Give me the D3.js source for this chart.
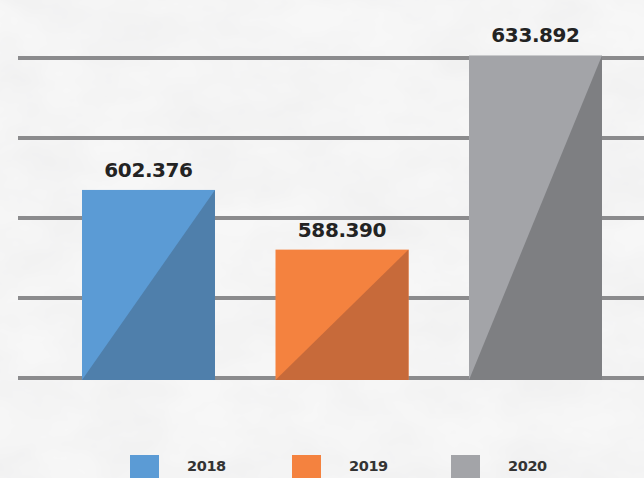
<!DOCTYPE html>
<html>
<head>
<meta charset="utf-8">
<script src="https://cdn.jsdelivr.net/npm/d3@7"></script>
<style>
  html, body { margin: 0; padding: 0; background: #f3f3f3; }
  svg { display: block; }
</style>
</head>
<body>
<div id="chart"></div>
<script>
// Yearly totals
const years = ["2018", "2019", "2020"];
const values = [602.376, 588.390, 633.892];
const valueLabels = ["602.376", "588.390", "633.892"];
const lightColors = ["#5b9bd5", "#f4823f", "#a3a4a8"];
const darkColors = ["#4f7fab", "#c76a3a", "#7e7f82"];
const yDomain = [558.3, 633.3];
const gridCount = 5;

const W = 644, H = 478;
const svg = d3.select("#chart").append("svg")
  .attr("width", W).attr("height", H);

// paper-like background
const defs = svg.append("defs");
const f = defs.append("filter").attr("id", "paper")
  .attr("x", 0).attr("y", 0).attr("width", "100%").attr("height", "100%");
f.append("feTurbulence").attr("type", "fractalNoise")
  .attr("baseFrequency", "0.012 0.02").attr("numOctaves", 4).attr("seed", 7).attr("result", "n");
f.append("feColorMatrix").attr("in", "n").attr("type", "matrix")
  .attr("values", "0 0 0 0 0.55  0 0 0 0 0.55  0 0 0 0 0.56  0 0 0 0.2 -0.05");
svg.append("rect").attr("width", W).attr("height", H).attr("fill", "#f7f7f7");
svg.append("rect").attr("width", W).attr("height", H).attr("filter", "url(#paper)");

const x = d3.scaleBand().domain(years).range([82, 602]).paddingInner(0.3127).paddingOuter(0);
const y = d3.scaleLinear().domain(yDomain).range([378, 58]);

// horizontal gridlines
const gridVals = d3.range(gridCount).map(i => yDomain[0] + i * (yDomain[1] - yDomain[0]) / (gridCount - 1));
svg.append("g").selectAll("line").data(gridVals).join("line")
  .attr("x1", 18).attr("x2", W)
  .attr("y1", d => y(d)).attr("y2", d => y(d))
  .attr("stroke", "#8b8b8d").attr("stroke-width", 4);

const data = years.map((yr, i) => ({ yr, v: values[i], label: valueLabels[i], light: lightColors[i], dark: darkColors[i] }));

const bars = svg.append("g").selectAll("g").data(data).join("g");
bars.append("rect")
  .attr("x", d => x(d.yr)).attr("width", x.bandwidth())
  .attr("y", d => y(d.v)).attr("height", d => y(yDomain[0]) - y(d.v) + 2)
  .attr("fill", d => d.light);
// darker lower-right triangle
bars.append("path")
  .attr("d", d => {
    const x0 = x(d.yr), x1 = x0 + x.bandwidth(), b = y(yDomain[0]) + 2, t = y(d.v);
    return `M${x0},${b}L${x1},${b}L${x1},${t}Z`;
  })
  .attr("fill", d => d.dark);

bars.append("text")
  .attr("x", d => x(d.yr) + x.bandwidth() / 2)
  .attr("y", d => y(d.v) - 13)
  .attr("text-anchor", "middle")
  .attr("font-family", "'DejaVu Sans', sans-serif")
  .attr("font-weight", 700)
  .attr("font-size", 20)
  .attr("letter-spacing", -0.4)
  .attr("fill", "#232323")
  .text(d => d.label);

// legend
const legendX = [130, 292, 451];
const lg = svg.append("g").selectAll("g").data(data).join("g")
  .attr("transform", (d, i) => `translate(${legendX[i]},455)`);
lg.append("rect").attr("width", 29).attr("height", 28).attr("fill", d => d.light);
lg.append("text")
  .attr("x", 57).attr("y", 16)
  .attr("font-family", "'DejaVu Sans', sans-serif")
  .attr("font-weight", 700)
  .attr("font-size", 14.5)
  .attr("letter-spacing", -0.4)
  .attr("fill", "#333")
  .text(d => d.yr);
</script>
</body>
</html>
